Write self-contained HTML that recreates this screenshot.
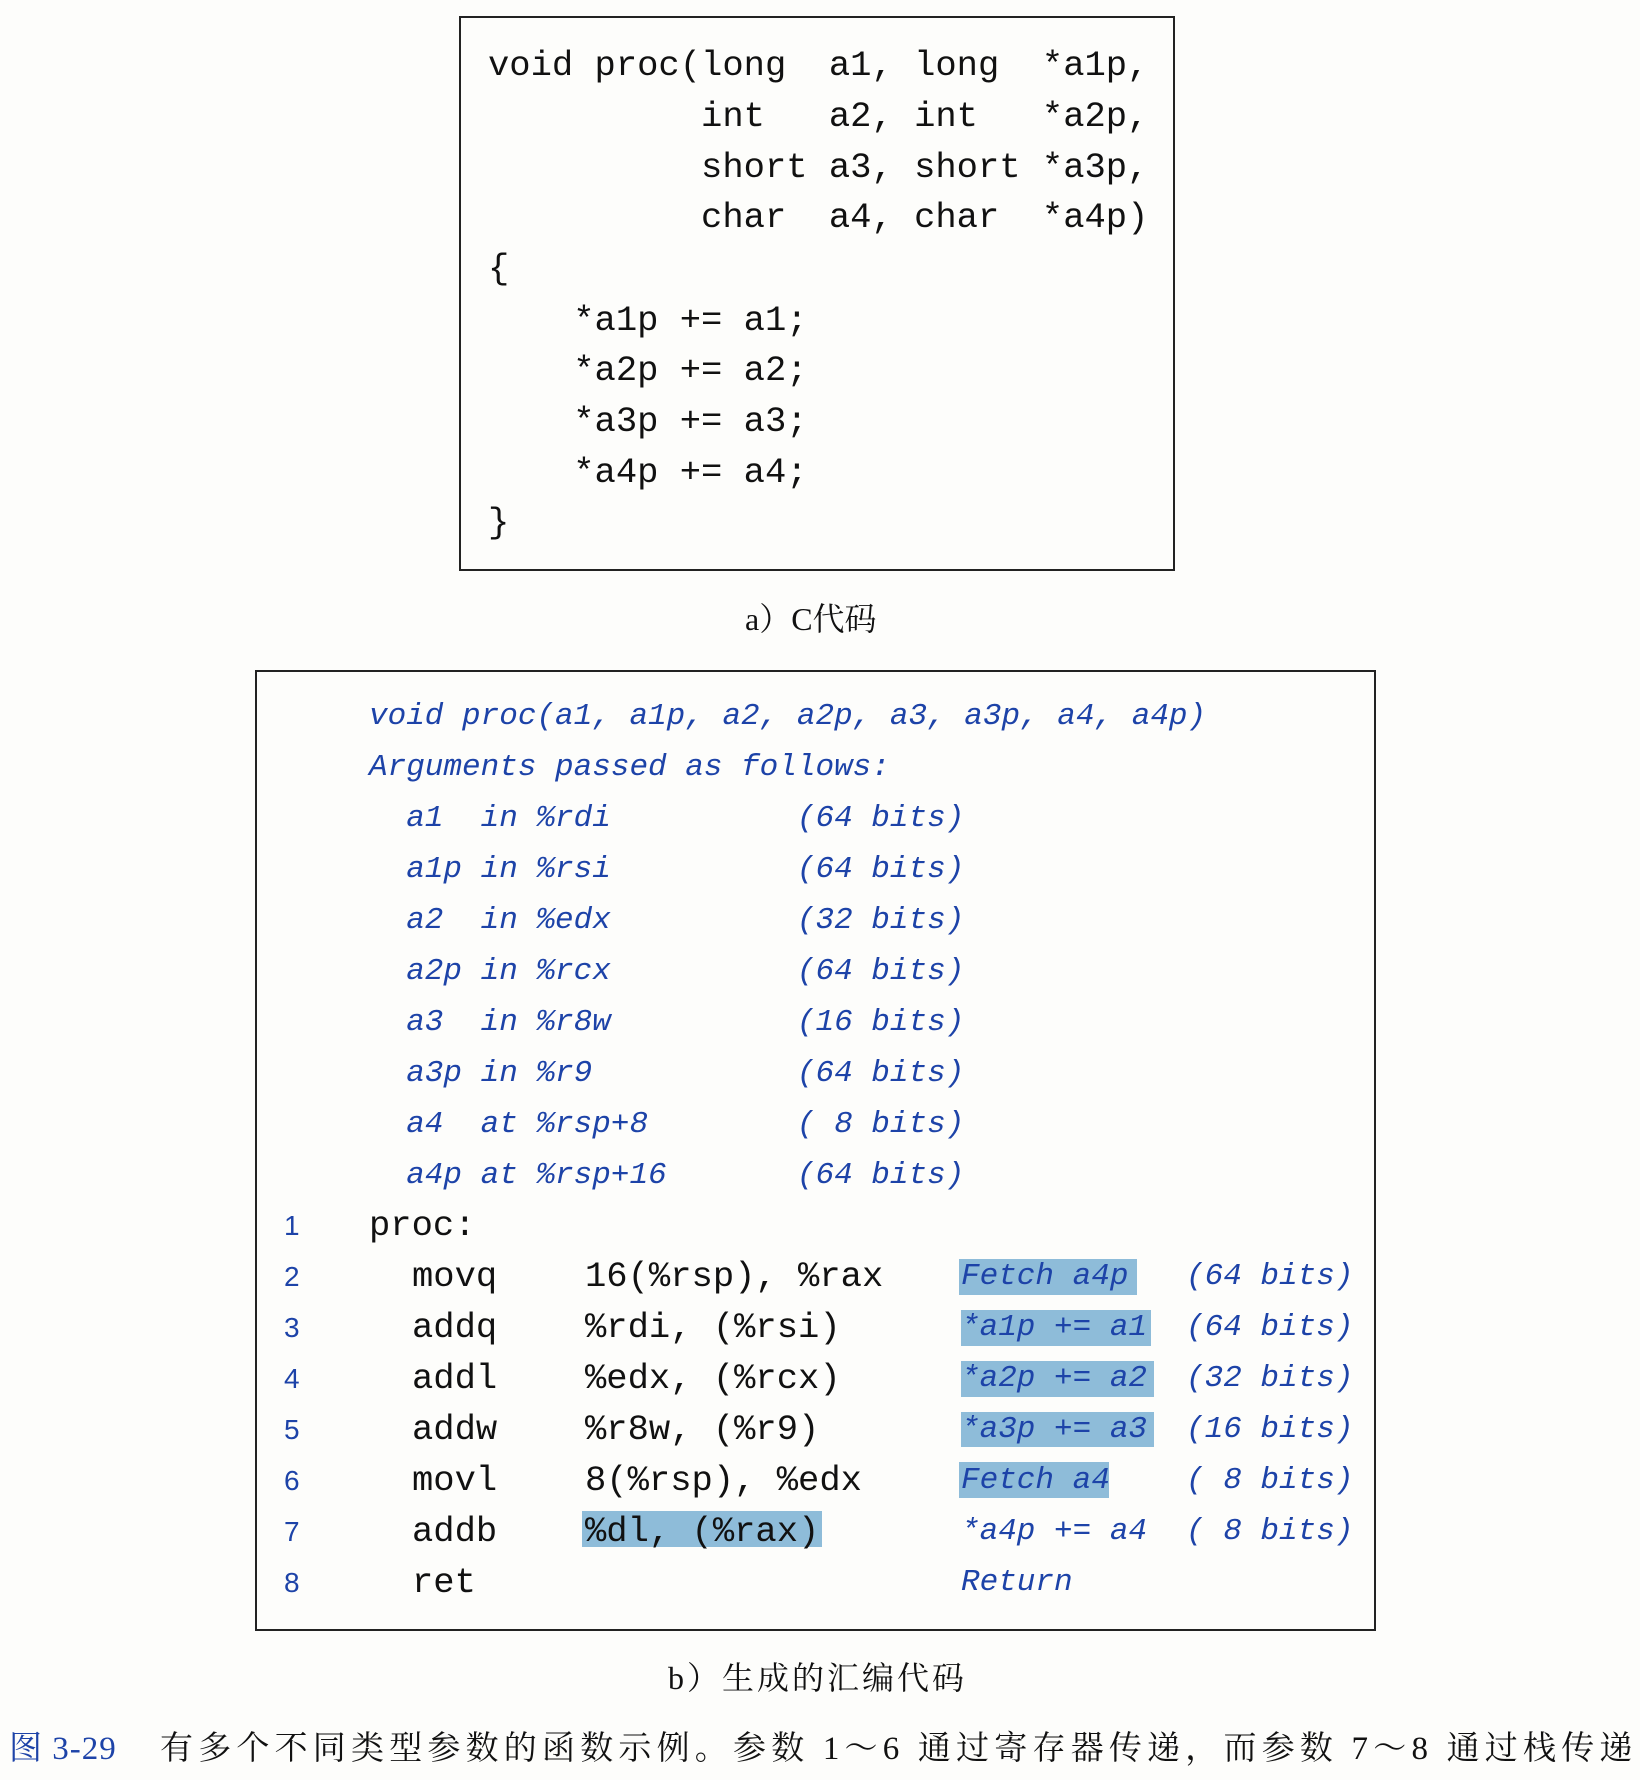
<!DOCTYPE html>
<html><head><meta charset="utf-8"><style>
body{margin:0;width:1640px;height:1780px;background:#fdfdfb;position:relative;overflow:hidden}
.b{position:absolute;border:2px solid #222;box-sizing:border-box}
.t{position:absolute;white-space:pre;height:50px;line-height:50px;margin-top:-25px;font-family:"Liberation Mono",monospace;color:#111}
.k{font-size:35.5px}
.i{font-size:31px;font-style:italic;color:#1d43a8}
.n{font-family:"Liberation Sans",sans-serif;font-size:28px;color:#1d43a8}
.h{position:absolute;background:#8ebcd9}
.c{position:absolute;white-space:pre;font-family:"Liberation Serif","Noto Serif CJK SC",serif;font-size:31px;color:#111;line-height:40px;margin-top:-20px}
</style></head><body>
<div class="b" style="left:459px;top:16px;width:716px;height:555px"></div>
<div class="t k" style="left:488px;top:66px">void proc(long  a1, long  *a1p,</div>
<div class="t k" style="left:488px;top:117px">          int   a2, int   *a2p,</div>
<div class="t k" style="left:488px;top:168px">          short a3, short *a3p,</div>
<div class="t k" style="left:488px;top:218px">          char  a4, char  *a4p)</div>
<div class="t k" style="left:488px;top:269px">{</div>
<div class="t k" style="left:488px;top:321px">    *a1p += a1;</div>
<div class="t k" style="left:488px;top:371px">    *a2p += a2;</div>
<div class="t k" style="left:488px;top:422px">    *a3p += a3;</div>
<div class="t k" style="left:488px;top:473px">    *a4p += a4;</div>
<div class="t k" style="left:488px;top:523px">}</div>
<div class="c" style="left:745px;top:619px;font-size:32px">a）C代码</div>

<div class="b" style="left:255px;top:670px;width:1121px;height:961px"></div>
<div class="t i" style="left:369px;top:717px">void proc(a1, a1p, a2, a2p, a3, a3p, a4, a4p)</div>
<div class="t i" style="left:369px;top:768px">Arguments passed as follows:</div>
<div class="t i" style="left:369px;top:819px">  a1  in %rdi          (64 bits)</div>
<div class="t i" style="left:369px;top:870px">  a1p in %rsi          (64 bits)</div>
<div class="t i" style="left:369px;top:921px">  a2  in %edx          (32 bits)</div>
<div class="t i" style="left:369px;top:972px">  a2p in %rcx          (64 bits)</div>
<div class="t i" style="left:369px;top:1023px">  a3  in %r8w          (16 bits)</div>
<div class="t i" style="left:369px;top:1074px">  a3p in %r9           (64 bits)</div>
<div class="t i" style="left:369px;top:1125px">  a4  at %rsp+8        ( 8 bits)</div>
<div class="t i" style="left:369px;top:1176px">  a4p at %rsp+16       (64 bits)</div>

<div class="h" style="left:959px;top:1259px;width:178px;height:36px"></div>
<div class="h" style="left:961px;top:1310px;width:190px;height:36px"></div>
<div class="h" style="left:961px;top:1361px;width:193px;height:36px"></div>
<div class="h" style="left:961px;top:1412px;width:193px;height:35px"></div>
<div class="h" style="left:959px;top:1462px;width:150px;height:36px"></div>
<div class="h" style="left:582px;top:1511px;width:240px;height:36px"></div>

<div class="t n" style="left:284px;top:1226px">1</div>
<div class="t k" style="left:369px;top:1226px">proc:</div>

<div class="t n" style="left:284px;top:1277px">2</div>
<div class="t k" style="left:412px;top:1277px">movq</div>
<div class="t k" style="left:585px;top:1277px">16(%rsp), %rax</div>
<div class="t i" style="left:961px;top:1277px">Fetch a4p</div>
<div class="t i" style="left:1186px;top:1277px">(64 bits)</div>

<div class="t n" style="left:284px;top:1328px">3</div>
<div class="t k" style="left:412px;top:1328px">addq</div>
<div class="t k" style="left:585px;top:1328px">%rdi, (%rsi)</div>
<div class="t i" style="left:961px;top:1328px">*a1p += a1</div>
<div class="t i" style="left:1186px;top:1328px">(64 bits)</div>

<div class="t n" style="left:284px;top:1379px">4</div>
<div class="t k" style="left:412px;top:1379px">addl</div>
<div class="t k" style="left:585px;top:1379px">%edx, (%rcx)</div>
<div class="t i" style="left:961px;top:1379px">*a2p += a2</div>
<div class="t i" style="left:1186px;top:1379px">(32 bits)</div>

<div class="t n" style="left:284px;top:1430px">5</div>
<div class="t k" style="left:412px;top:1430px">addw</div>
<div class="t k" style="left:585px;top:1430px">%r8w, (%r9)</div>
<div class="t i" style="left:961px;top:1430px">*a3p += a3</div>
<div class="t i" style="left:1186px;top:1430px">(16 bits)</div>

<div class="t n" style="left:284px;top:1481px">6</div>
<div class="t k" style="left:412px;top:1481px">movl</div>
<div class="t k" style="left:585px;top:1481px">8(%rsp), %edx</div>
<div class="t i" style="left:961px;top:1481px">Fetch a4</div>
<div class="t i" style="left:1186px;top:1481px">( 8 bits)</div>

<div class="t n" style="left:284px;top:1532px">7</div>
<div class="t k" style="left:412px;top:1532px">addb</div>
<div class="t k" style="left:585px;top:1532px">%dl, (%rax)</div>
<div class="t i" style="left:961px;top:1532px">*a4p += a4</div>
<div class="t i" style="left:1186px;top:1532px">( 8 bits)</div>

<div class="t n" style="left:284px;top:1583px">8</div>
<div class="t k" style="left:412px;top:1583px">ret</div>
<div class="t i" style="left:961px;top:1583px">Return</div>

<div class="c" style="left:668px;top:1678px;font-size:32px;letter-spacing:3px">b）生成的汇编代码</div>
<div class="c" style="left:9px;top:1749px;color:#1d43a8;font-size:33px;letter-spacing:1px">图 3-29</div>
<div class="c" style="left:160px;top:1749px;font-size:33px;letter-spacing:5.2px">有多个不同类型参数的函数示例。参数 1～6 通过寄存器传递，而参数 7～8 通过栈传递</div>
</body></html>
